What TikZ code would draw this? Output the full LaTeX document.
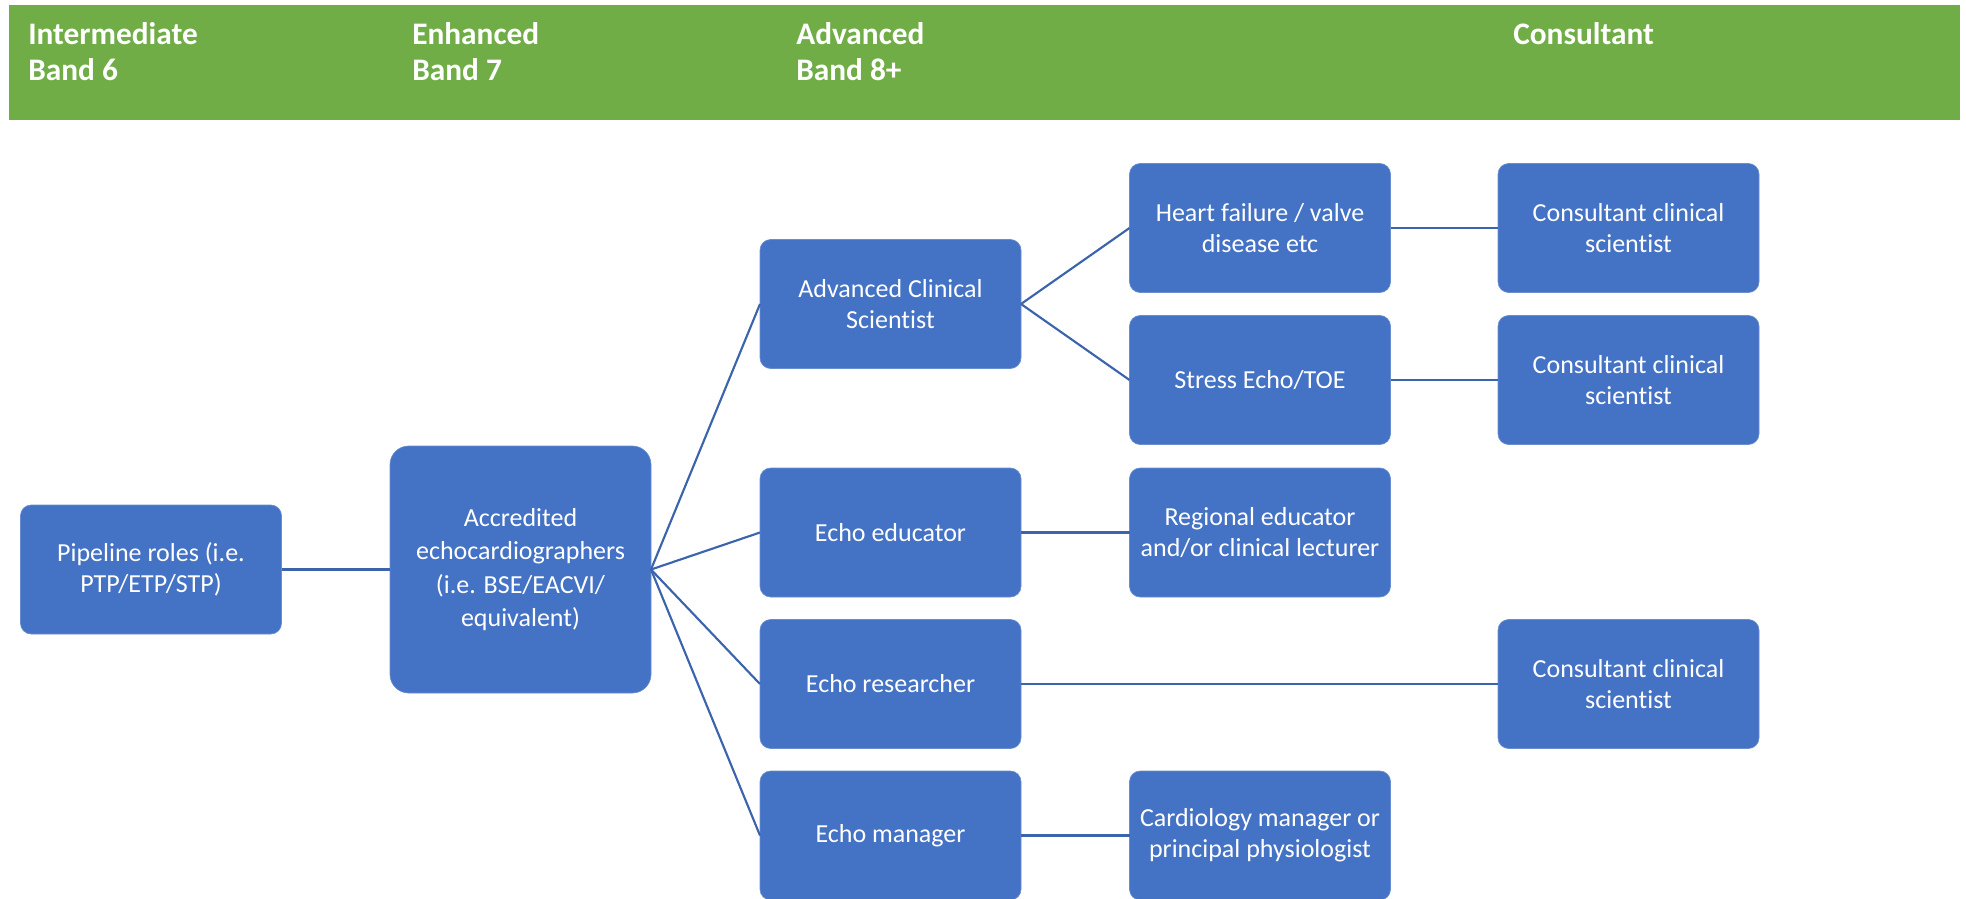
\documentclass[tikz,border=0pt]{standalone}
\usepackage{fontspec}
\setmainfont{Carlito}[Ligatures=NoCommon]
\definecolor{bandgreen}{RGB}{112,173,71}
\definecolor{boxblue}{RGB}{68,114,196}
\definecolor{lineblue}{RGB}{59,100,173}
\tikzset{
  rolebox/.style={rectangle, rounded corners=8pt, fill=boxblue, draw=boxblue!80!white, line width=0.5pt,
    text=white, align=center, minimum width=195.75pt, minimum height=96.75pt, inner sep=2pt, outer sep=0pt,
    font=\fontsize{19.5}{23.5}\selectfont},
  bigbox/.style={rolebox, rounded corners=14pt, minimum height=185.25pt, font=\fontsize{19.5}{25}\selectfont},
  header/.style={anchor=base west, align=left, text=white, inner sep=0pt, font=\bfseries\fontsize{23.5}{26.3}\selectfont},
  link/.style={draw=lineblue, line width=1.6pt}
}
\begin{document}
\begin{tikzpicture}[x=0.75pt, y=-0.75pt]
\useasboundingbox (0,0) rectangle (1966,899);
\fill[white] (0,0) rectangle (1966,899);
\fill[bandgreen] (9,5) rectangle (1960,120);
\node[header] (h1) at (28,80) {Intermediate\\Band 6};
\node[header] (h2) at (412,80) {Enhanced\\Band 7};
\node[header] (h3) at (796,80) {Advanced\\Band 8+};
\node[header] (h4) at (1513,45) {Consultant};

\node[rolebox] (pipe) at (151,569.5) {Pipeline roles (i.e.\\PTP/ETP/STP)};
\node[bigbox] (acc) at (520.5,569.5) {Accredited\\echocardiographers\\(i.e. BSE/EACVI/\\equivalent)};

\node[rolebox] (acs) at (890.5,304) {Advanced Clinical\\Scientist};
\node[rolebox] (edu) at (890.5,532.5) {Echo educator};
\node[rolebox] (res) at (890.5,684) {Echo researcher};
\node[rolebox] (man) at (890.5,835.5) {Echo manager};

\node[rolebox] (hf) at (1260,228) {Heart failure / valve\\disease etc};
\node[rolebox] (se) at (1260,380) {Stress Echo/TOE};
\node[rolebox] (reg) at (1260,532.5) {Regional educator\\and/or clinical lecturer};
\node[rolebox] (card) at (1260,835.5) {Cardiology manager or\\principal physiologist};

\node[rolebox] (c1) at (1628.5,228) {Consultant clinical\\scientist};
\node[rolebox] (c2) at (1628.5,380) {Consultant clinical\\scientist};
\node[rolebox] (c3) at (1628.5,684) {Consultant clinical\\scientist};

\draw[link] (pipe.east) -- (acc.west);
\draw[link] (acc.east) -- (acs.west);
\draw[link] (acc.east) -- (edu.west);
\draw[link] (acc.east) -- (res.west);
\draw[link] (acc.east) -- (man.west);
\draw[link] (acs.east) -- (hf.west);
\draw[link] (acs.east) -- (se.west);
\draw[link] (hf.east) -- (c1.west);
\draw[link] (se.east) -- (c2.west);
\draw[link] (edu.east) -- (reg.west);
\draw[link] (res.east) -- (c3.west);
\draw[link] (man.east) -- (card.west);
\end{tikzpicture}
\end{document}
